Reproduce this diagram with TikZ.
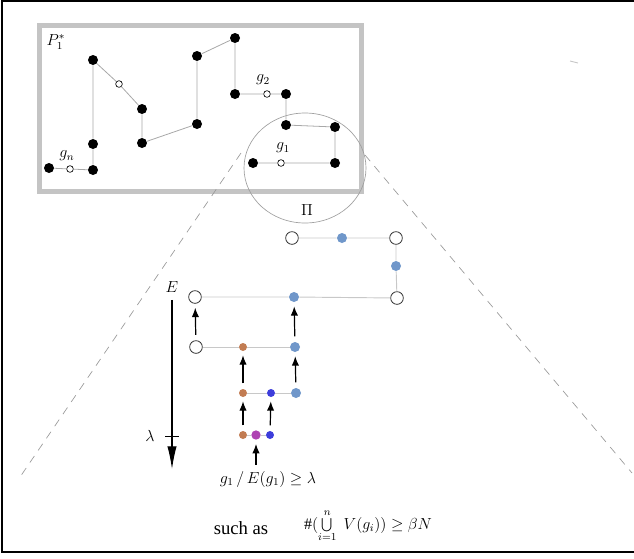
\documentclass[tikz,border=0pt]{standalone}
\usepackage{fontspec}
\setmainfont{Liberation Serif}
\usetikzlibrary{arrows.meta}
\definecolor{framegray}{HTML}{C4C4C4}
\definecolor{linegray}{HTML}{A8A8A8}
\definecolor{lightlink}{HTML}{C8C8C8}
\definecolor{softblue}{HTML}{7097CA}
\definecolor{rust}{HTML}{C27C52}
\definecolor{deepblue}{HTML}{3D3DDB}
\definecolor{plum}{HTML}{AE42B2}
\tikzset{
  bdot/.style={circle, fill=black, inner sep=0pt, minimum size=7.5pt},
  odot/.style={circle, draw=black, fill=white, inner sep=0pt, minimum size=5pt, line width=0.5pt},
  bigo/.style={circle, draw=black!80, fill=white, inner sep=0pt, minimum size=9.5pt, line width=0.6pt},
  cdot/.style={circle, fill=#1, inner sep=0pt, minimum size=7.5pt},
  sdot/.style={circle, fill=#1, inner sep=0pt, minimum size=6pt},
  link/.style={linegray, line width=0.6pt},
  lowlink/.style={lightlink, line width=0.7pt},
  uparrow/.style={-{Latex[length=7pt,width=5.5pt]}, line width=0.9pt, shorten <=4pt, shorten >=3pt},
  guide/.style={gray!80, line width=0.5pt, dash pattern=on 6pt off 5pt},
  mlabel/.style={font=\fontsize{12}{14}\selectfont}
}
\begin{document}
\begin{tikzpicture}[x=0.75pt, y=-0.75pt, font=\fontsize{14}{16}\selectfont]
  \useasboundingbox (0,0) rectangle (634,558);
  \draw[line width=1pt] (634,1) -- (2,1) -- (2,552) -- (634,552);
  \draw[lightlink, line width=0.7pt] (570,61) -- (578,63);
  \draw[framegray, line width=3.75pt] (39,25) rectangle (361,191);
  \draw[gray!75, line width=0.5pt] (305,168) ellipse [x radius=61, y radius=55];
  \coordinate (piL) at (241,153); \coordinate (piR) at (365,155);
  \coordinate (endL) at (18,480); \coordinate (endR) at (632,473);
  \draw[guide] (piL) -- (endL) (piR) -- (endR);
  \node[mlabel] (pi) at (307,210) {$\Pi$};

  \foreach \n/\x/\y in {t1/49/168, t2/93/170, t3/93/144, t4/93/60, t6/142/109, t7/142/143,
      t8/197/124, t9/197/56, t10/235/38, t11/235/94, t12/286/94, t13/286/125,
      t14/335/127, t15/335/163, t16/253/163}
    \node[bdot] (\n) at (\x,\y) {};
  \foreach \n/\x/\y in {gn/70/169, t5/119/84, g2/267/94, g1/281/163}
    \node[odot] (\n) at (\x,\y) {};
  \draw[link] (t1) -- (gn) -- (t2) -- (t3) -- (t4) -- (t5) -- (t6) -- (t7) -- (t8) -- (t9)
    -- (t10) -- (t11) -- (g2) -- (t12) -- (t13) -- (t14) -- (t15) -- (g1) -- (t16);
  \node[mlabel] (pstar) at (56,42) {$P_1^*$};
  \node[mlabel] (lgn) at (67,156) {$g_n$};
  \node[mlabel] (lg2) at (263,80) {$g_2$};
  \node[mlabel] (lg1) at (283,148) {$g_1$};

  \node[bigo] (a1) at (292,238) {};
  \node[cdot=softblue] (a2) at (342,238) {};
  \node[bigo] (a3) at (396,238) {};
  \node[cdot=softblue] (a4) at (396,266) {};
  \node[bigo] (b3) at (397,298) {};
  \node[cdot=softblue] (b2) at (294,297) {};
  \node[bigo] (b1) at (195,297) {};
  \node[bigo] (c1) at (196,347) {};
  \node[sdot=rust] (c2) at (243,347) {};
  \node[cdot=softblue] (c3) at (295,347) {};
  \node[sdot=rust] (d1) at (243,393) {};
  \node[sdot=deepblue] (d2) at (271,393) {};
  \node[cdot=softblue] (d3) at (296,393) {};
  \node[sdot=rust] (e1) at (243,435) {};
  \node[cdot=plum, minimum size=7pt] (e2) at (256,435) {};
  \node[sdot=deepblue] (e3) at (270,435) {};
  \draw[lowlink] (a1) -- (a2) -- (a3) -- (a4) -- (b3) -- (b2) -- (b1);
  \draw[lowlink] (c1) -- (c2) -- (c3) (d1) -- (d2) -- (d3) (e1) -- (e2) -- (e3);
  \draw[uparrow] (c1) -- (b1);
  \draw[uparrow] (c3) -- (b2);
  \draw[uparrow] (d1) -- (c2);
  \draw[uparrow] (d3) -- (c3);
  \draw[uparrow] (e1) -- (d1);
  \draw[uparrow] (e3) -- (d2);
  \node[mlabel] (cond) at (268,479) {$g_1\,/\,E(g_1)\geq\lambda$};
  \draw[uparrow, shorten <=1pt] (cond.north -| e2) -- (e2);

  \node[mlabel] (E) at (172,287) {$E$};
  \coordinate (axend) at (172,469);
  \draw[-{Latex[length=17pt,width=7pt]}, line width=0.8pt, shorten <=2pt] (E) -- (axend);
  \node[mlabel] (lam) at (150,436) {$\lambda$};
  \draw[line width=0.7pt] (165,436) -- (179,436);

  \node (such) at (241,528) {such as};
  \node[mlabel] (cover) at (368,526) {$\#(\bigcup\limits_{i=1}^{n}\;V(g_i))\geq\beta N$};
\end{tikzpicture}
\end{document}
